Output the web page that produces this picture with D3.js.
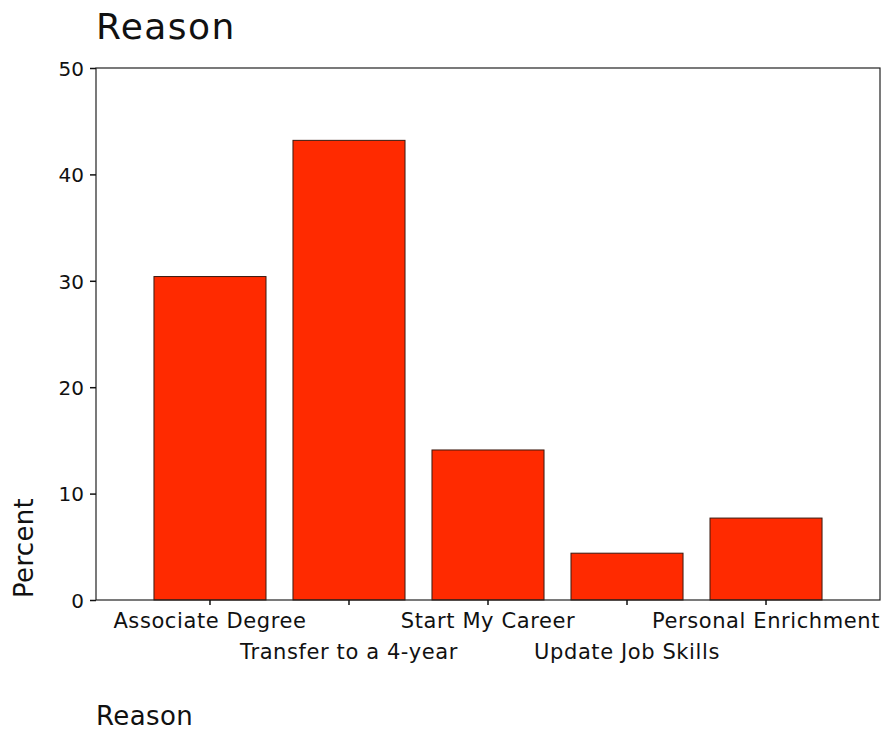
<!DOCTYPE html>
<html>
<head>
<meta charset="utf-8">
<script src="https://cdn.jsdelivr.net/npm/d3@7"></script>
<style>
  body { margin: 0; background: #fff; }
  text { font-family: "DejaVu Sans", sans-serif; fill: #111; }
</style>
</head>
<body>
<div id="chart"></div>
<script>
let reasons = ["Associate Degree", "Transfer to a 4-year", "Start My Career", "Update Job Skills", "Personal Enrichment"]
let percents = [30.4, 43.2, 14.1, 4.4, 7.7]
let yTicks = [0, 10, 20, 30, 40, 50]

let width = 887, height = 730
let plotLeft = 96, plotRight = 880, plotTop = 68, plotBottom = 600

let svg = d3.select("#chart").append("svg").attr("width", width).attr("height", height)

let x = d3.scaleBand().domain(reasons).range([plotLeft, plotRight]).paddingInner(0.194).paddingOuter(0.417)
let y = d3.scaleLinear().domain([0, 50]).range([plotBottom, plotTop])

// bars
svg.selectAll("rect.bar")
    .data(reasons)
    .enter()
    .append("rect")
    .attr("class", "bar")
    .attr("x", d => x(d))
    .attr("width", x.bandwidth())
    .attr("y", (d, i) => y(percents[i]))
    .attr("height", (d, i) => y(0) - y(percents[i]))
    .attr("fill", "#ff2a00")
    .attr("stroke", "#3a1a10")
    .attr("stroke-width", 1)

// frame
svg.append("rect")
    .attr("x", plotLeft).attr("y", plotTop)
    .attr("width", plotRight - plotLeft).attr("height", plotBottom - plotTop)
    .attr("fill", "none").attr("stroke", "#222").attr("stroke-width", 1.2)

// y axis
let yAxis = svg.append("g").attr("transform", `translate(${plotLeft},0)`)
    .call(d3.axisLeft(y).tickValues(yTicks).tickSize(6).tickPadding(6))
yAxis.select(".domain").remove()
yAxis.selectAll("line").attr("stroke", "#111").attr("stroke-width", 1.5)
yAxis.selectAll("text").attr("font-size", 20).attr("font-family", "DejaVu Sans").attr("dy", "0.36em")

// x axis, labels staggered in two rows
let xAxis = svg.append("g").attr("transform", `translate(0,${plotBottom})`)
    .call(d3.axisBottom(x).tickSize(5).tickPadding(8))
xAxis.select(".domain").remove()
xAxis.selectAll("line").attr("stroke", "#111").attr("stroke-width", 1.5)
xAxis.selectAll("text")
    .attr("font-size", 21)
    .attr("font-family", "DejaVu Sans")
    .attr("letter-spacing", 0.6)
    .attr("dy", (d, i) => i % 2 ? "46px" : "15px")

// titles
svg.append("text").attr("x", plotLeft).attr("y", 39).attr("font-size", 36).attr("letter-spacing", 1.4).text("Reason")
svg.append("text").attr("x", plotLeft).attr("y", 725).attr("font-size", 26).attr("letter-spacing", 0.4).text("Reason")
svg.append("text")
    .attr("transform", "translate(33,548) rotate(-90)")
    .attr("text-anchor", "middle")
    .attr("font-size", 26)
    .attr("letter-spacing", 0.3)
    .text("Percent")
</script>
</body>
</html>
